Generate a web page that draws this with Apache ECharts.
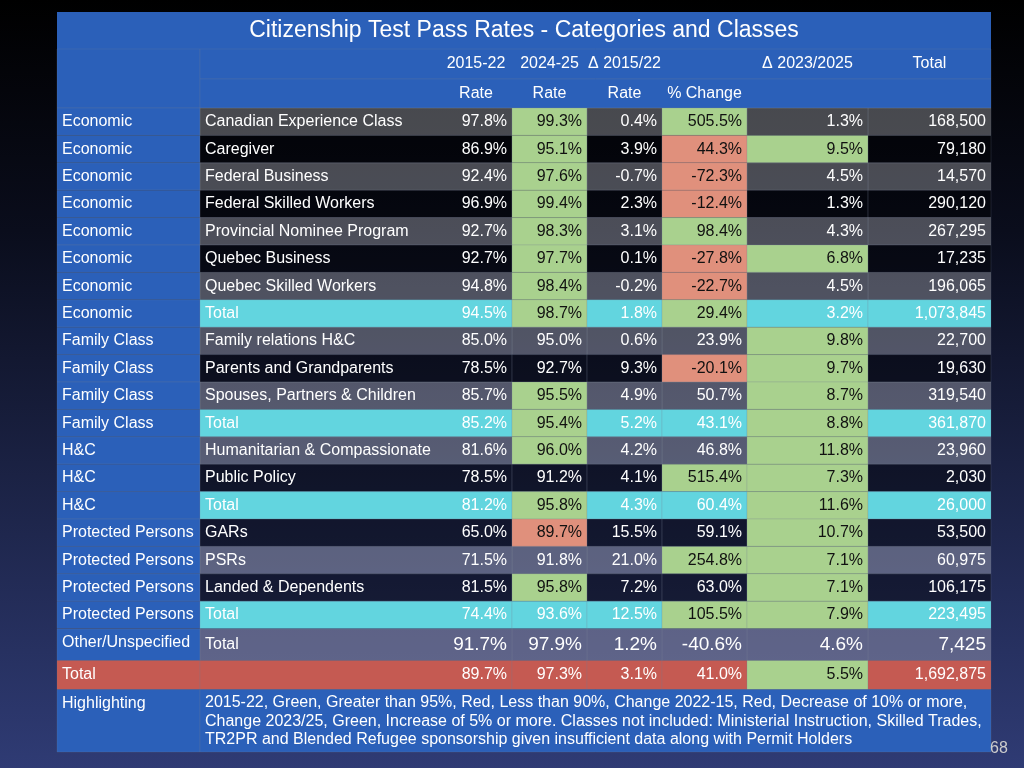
<!DOCTYPE html>
<html><head><meta charset="utf-8">
<script src="https://cdn.jsdelivr.net/npm/echarts@6/dist/echarts.min.js"></script>
<style>html,body{margin:0;padding:0;background:linear-gradient(#000 0%,#0a0d1c 30%,#2f3b74 100%);}#c{width:1024px;height:768px;}</style>
</head><body><div id="c"></div>
<script>
const title = 'Citizenship Test Pass Rates - Categories and Classes';
const header1 = ['', '', '2015-22', '2024-25', 'Δ 2015/22', '', 'Δ 2023/2025', 'Total'];
const header2 = ['', '', 'Rate', 'Rate', 'Rate', '% Change', '', ''];
const categories = ['Economic','Economic','Economic','Economic','Economic','Economic','Economic','Economic',
  'Family Class','Family Class','Family Class','Family Class','H&C','H&C','H&C',
  'Protected Persons','Protected Persons','Protected Persons','Protected Persons','Other/Unspecified','Total'];
const classes = ['Canadian Experience Class','Caregiver','Federal Business','Federal Skilled Workers','Provincial Nominee Program','Quebec Business','Quebec Skilled Workers','Total',
  'Family relations H&C','Parents and Grandparents','Spouses, Partners & Children','Total',
  'Humanitarian & Compassionate','Public Policy','Total',
  'GARs','PSRs','Landed & Dependents','Total','Total',''];
const rate1522 = ['97.8%','86.9%','92.4%','96.9%','92.7%','92.7%','94.8%','94.5%','85.0%','78.5%','85.7%','85.2%','81.6%','78.5%','81.2%','65.0%','71.5%','81.5%','74.4%','91.7%','89.7%'];
const rate2425 = ['99.3%','95.1%','97.6%','99.4%','98.3%','97.7%','98.4%','98.7%','95.0%','92.7%','95.5%','95.4%','96.0%','91.2%','95.8%','89.7%','91.8%','95.8%','93.6%','97.9%','97.3%'];
const deltaRate = ['0.4%','3.9%','-0.7%','2.3%','3.1%','0.1%','-0.2%','1.8%','0.6%','9.3%','4.9%','5.2%','4.2%','4.1%','4.3%','15.5%','21.0%','7.2%','12.5%','1.2%','3.1%'];
const pctChange = ['505.5%','44.3%','-72.3%','-12.4%','98.4%','-27.8%','-22.7%','29.4%','23.9%','-20.1%','50.7%','43.1%','46.8%','515.4%','60.4%','59.1%','254.8%','63.0%','105.5%','-40.6%','41.0%'];
const delta2325 = ['1.3%','9.5%','4.5%','1.3%','4.3%','6.8%','4.5%','3.2%','9.8%','9.7%','8.7%','8.8%','11.8%','7.3%','11.6%','10.7%','7.1%','7.1%','7.9%','4.6%','5.5%'];
const totals = ['168,500','79,180','14,570','290,120','267,295','17,235','196,065','1,073,845','22,700','19,630','319,540','361,870','23,960','2,030','26,000','53,500','60,975','106,175','223,495','7,425','1,692,875'];
// highlight flags for columns 2024-25, % Change, Δ 2023/2025 (g = green, r = red)
const flags2425 = ['g','g','g','g','g','g','g','g','','','g','g','g','','g','r','','g','','',''];
const flagsPct  = ['g','r','r','r','g','r','r','g','','r','','','','g','','','g','','g','',''];
const flags2325 = ['','g','','','','g','','','g','g','g','g','g','g','g','g','g','g','g','','g'];
const rowKind = ['L','D','L','D','L','D','L','T','L','D','L','T','L','D','T','D','L','D','T','O','G'];
const highlightLabel = 'Highlighting';
const noteLines = ['2015-22, Green, Greater than 95%, Red, Less than 90%, Change 2022-15, Red, Decrease of 10% or more,',
  'Change 2023/25, Green, Increase of 5% or more. Classes not included: Ministerial Instruction, Skilled Trades,',
  'TR2PR and Blended Refugee sponsorship given insufficient data along with Permit Holders'];
const pageNumber = '68';

// layout
const colX = [57,200,440,512,587,662,747,868,991];
const BLUE = '#2b60b9', CYAN = '#62d5df', GREEN = '#a9d18e', RED = '#e0907c', GTRED = '#c55a52';
const FS = 16;
const rowTops = [];
let y = 108;
for (let i = 0; i < 19; i++) { rowTops.push([y, y + 27.4]); y += 27.4; }
rowTops.push([629, 660.5]); rowTops.push([660.5, 689.5]);

const cells = [];
function cell(c0, c1, y0, y1, o) { cells.push(Object.assign({x0: colX[c0], x1: colX[c1], y0, y1}, o)); }
cell(0, 8, 12, 49, {bg: BLUE, text: title, align: 'center', size: 23, noStroke: true});
cell(0, 1, 49, 108, {bg: BLUE, text: '', align: 'center', size: FS});
cell(1, 8, 49, 79, {bg: BLUE, text: '', align: 'center', size: FS});
cell(1, 8, 79, 108, {bg: BLUE, text: '', align: 'center', size: FS});
header1.forEach((t, c) => { if (t) cell(c, c + 1, 49, 79, {bg: 'rgba(0,0,0,0)', text: t, align: 'center', size: FS, noStroke: true}); });
header2.forEach((t, c) => { if (t) cell(c, c + 1, 79, 108, {bg: 'rgba(0,0,0,0)', text: t, align: 'center', size: FS, noStroke: true}); });
const plainBg = {L: 'rgba(255,255,255,0.27)', D: 'rgba(0,0,0,0.4)', T: CYAN, O: 'rgba(150,150,175,0.5)', G: GTRED};
function fbg(f, base) { return f === 'g' ? GREEN : f === 'r' ? RED : base; }
categories.forEach((cat, i) => {
  const [y0, y1] = rowTops[i];
  const k = rowKind[i];
  const base = plainBg[k];
  const sz = k === 'O' ? 19 : FS;
  cell(0, 1, y0, y1, {bg: k === 'G' ? GTRED : BLUE, text: cat, align: 'left', size: FS, vtop: k === 'O'});
  cell(1, 3, y0, y1, {bg: base, text: classes[i], align: 'left', size: FS});
  cell(2, 3, y0, y1, {bg: 'rgba(0,0,0,0)', text: rate1522[i], align: 'right', size: sz, noStroke: true});
  const vals = [[rate2425, flags2425], [deltaRate, null], [pctChange, flagsPct], [delta2325, flags2325], [totals, null]];
  vals.forEach(([arr, fl], j) => {
    const f = fl ? fl[i] : '';
    cell(3 + j, 4 + j, y0, y1, {bg: fbg(f, base), text: arr[i], align: 'right', size: sz, dark: f !== ''});
  });
});
cell(0, 1, 689.5, 752, {bg: BLUE, text: highlightLabel, align: 'left', size: FS, vtop: true});
cell(1, 8, 689.5, 752, {bg: BLUE, text: noteLines.join('\n'), align: 'left', size: 16, vtop: true, lh: 18.5});

const chart = echarts.init(document.getElementById('c'));
chart.setOption({
  animation: false,
  grid: {left: 0, right: 0, top: 0, bottom: 0},
  xAxis: {type: 'value', min: 0, max: 1024, show: false},
  yAxis: {type: 'value', min: 0, max: 768, inverse: true, show: false},
  series: [{
    type: 'custom',
    data: cells.map((c, i) => [c.x0, c.y0, c.x1, c.y1, i]),
    renderItem: function (params, api) {
      const c = cells[api.value(4)];
      const p0 = api.coord([api.value(0), api.value(1)]);
      const p1 = api.coord([api.value(2), api.value(3)]);
      const w = p1[0] - p0[0], h = p1[1] - p0[1];
      const tx = c.align === 'left' ? p0[0] + 5 : c.align === 'right' ? p1[0] - 5 : p0[0] + w / 2;
      const ty = c.vtop ? p0[1] + 4 : p0[1] + h / 2;
      return {type: 'group', children: [
        {type: 'rect', shape: {x: p0[0], y: p0[1], width: w, height: h},
         style: {fill: c.bg, stroke: c.noStroke ? null : 'rgba(120,130,150,0.35)', lineWidth: 0.6}},
        {type: 'text', style: {x: tx, y: ty, text: c.text, fill: c.dark ? '#111' : '#fff',
          font: c.size + 'px "Liberation Sans", Arial, sans-serif', align: c.align,
          verticalAlign: c.vtop ? 'top' : 'middle', lineHeight: c.lh || c.size * 1.2}}
      ]};
    }
  }],
  graphic: [{type: 'text', z: 100, left: 990, top: 741, style: {text: pageNumber, fill: '#ccc', font: '16px "Liberation Sans", Arial'}}]
});
</script></body></html>
